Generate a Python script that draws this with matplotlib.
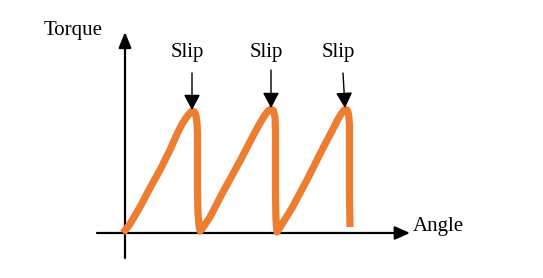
import matplotlib
matplotlib.use("Agg")
import matplotlib.pyplot as plt
from matplotlib.patches import FancyArrowPatch

# Schematic torque vs angle (stick-slip), units roughly in pixels from origin
angle = [-2, 5, 15, 25, 35, 45, 52, 57, 61, 64, 67, 69.5, 71, 72, 72.5, 72.5, 72.5, 73, 74, 75,
         77, 85, 98, 115, 128, 135, 140, 143, 146, 148.5, 150, 150.5, 150.5, 150.5, 151, 152,
         154, 167, 183, 198, 207, 212, 216, 219, 222, 223.5, 224.5, 224.5, 224.5, 225]
torque = [0, 9, 26, 45, 63, 83, 99, 109, 115, 119, 122, 121, 117, 110, 100, 73, 43, 20, 8, 2,
          4, 16, 41, 72, 97, 110, 118, 122, 124, 122, 116, 103, 73, 38, 13, 1,
          4, 25, 55, 85, 102, 112, 119, 123, 123, 119, 108, 73, 38, 6]

slip_tip_angle = [67, 146, 220]
slip_tail_angle = [67, 146, 218]
slip_tip_torque = [123, 125, 125]
slip_tail_torque = [160, 163, 160]
slip_labels = ["Slip", "Slip", "Slip"]
slip_label_angle = [62, 141, 213]
slip_label_torque = [181, 181, 181]

x_label = "Angle"
y_label = "Torque"

fig = plt.figure(figsize=(5.43, 2.78), dpi=100)
ax = fig.add_axes([0, 0, 1, 1])
ax.set_xlim(-125, 418)
ax.set_ylim(-45, 233)
ax.axis("off")

serif = ["Liberation Serif", "DejaVu Serif"]

# axes arrows
ax.add_patch(FancyArrowPatch((0, -25), (0, 201), arrowstyle="-|>,head_length=0.94,head_width=0.38",
                             mutation_scale=10, color="black", lw=1.6, shrinkA=0, shrinkB=0))
ax.add_patch(FancyArrowPatch((-28, 0), (285, 0), arrowstyle="-|>,head_length=0.9,head_width=0.4",
                             mutation_scale=10, color="black", lw=1.6, shrinkA=0, shrinkB=0))

# curve
ax.plot(angle, torque, color="#ED7D31", lw=5.2, solid_joinstyle="round",
        solid_capstyle="butt", zorder=3)

# slip arrows and labels
for ta, tt, ha_, ht, lab, la, lt in zip(slip_tail_angle, slip_tail_torque, slip_tip_angle,
                                         slip_tip_torque, slip_labels, slip_label_angle,
                                         slip_label_torque):
    ax.add_patch(FancyArrowPatch((ta, tt), (ha_, ht), arrowstyle="-|>,head_length=0.94,head_width=0.5",
                                 mutation_scale=10, color="black", lw=1.0, shrinkA=0, shrinkB=0,
                                 zorder=4))
    ax.text(la, lt, lab, ha="center", va="center", fontsize=15, family=serif)

ax.text(-52, 203, y_label, ha="center", va="center", fontsize=15, family=serif)
ax.text(288, 7, x_label, ha="left", va="center", fontsize=15, family=serif)

fig.savefig("out.png", dpi=100)
